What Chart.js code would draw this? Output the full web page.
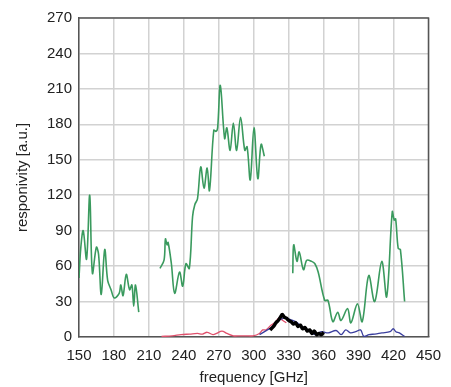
<!DOCTYPE html>
<html>
<head>
<meta charset="utf-8">
<script src="https://cdn.jsdelivr.net/npm/chart.js@4"></script>
<style>
  html, body { margin: 0; padding: 0; background: #fff; }
  #wrap { width: 451px; height: 387px; }
</style>
</head>
<body>
<div id="wrap"><canvas id="respChart" width="451" height="387"></canvas></div>
<script>
// tick values
const xTicks = [150, 180, 210, 240, 270, 300, 330, 360, 390, 420, 450];
const yTicks = [0, 30, 60, 90, 120, 150, 180, 210, 240, 270];

// green curve, three separate pieces
const greenFreqA = [150, 151.5, 153.6, 156.5, 159.2, 161.5, 164.9, 166.8, 169.1, 172.1, 174.6, 177.5, 180.3, 184.5, 185.9, 187.8, 190.6, 193.4, 195.4, 197, 198.5, 201.3];
const greenRespA = [50, 75, 90, 66, 120, 54, 76, 70, 36, 74, 48, 40, 33, 37, 44, 35, 53, 40, 44, 26, 44, 21];

const greenFreqB = [219.5, 223, 224.2, 225.6, 226.5, 229.3, 232.1, 236.3, 239, 241.8, 244.7, 247.5, 249.4, 251.7, 254.5, 257.3, 260, 262, 265.7, 267.6, 269, 271.3, 275, 276.9, 279.7, 282.5, 285.3, 288.7, 292.3, 294.3, 297, 300.2, 303.5, 306.3, 309.1];
const greenRespB = [58, 65, 83, 78, 80, 62, 37, 55, 43, 62, 58, 102, 112, 117, 144, 126, 143, 124, 175, 174, 177, 213, 168, 177, 158, 181, 158, 186, 158, 161, 133, 177, 134, 163, 153];

const greenFreqC = [333.5, 334.3, 337.1, 339, 342.7, 345.5, 349.7, 352.5, 355.3, 360.9, 363.7, 367.9, 372.1, 374.9, 380.5, 383.4, 389, 393.1, 398.7, 403.8, 409.9, 414.1, 418.9, 420.6, 421.8, 424, 425.9, 429.5];
const greenRespC = [54, 78, 64, 72, 57, 65, 64, 62, 55, 31, 31, 13, 21, 14, 24, 12, 28, 13, 52, 30, 64, 34, 106, 99, 100, 75, 74, 30];

// red curve
const redFreq = [220.8, 230, 237.6, 245, 251.7, 256, 260, 265, 268, 272.7, 277, 282.5, 288, 293.7, 299.3, 304.9, 307.7, 310.5, 314.7, 318, 321.7, 325, 328];
const redResp = [0.5, 1, 2, 2.5, 3, 2.5, 4, 2, 3, 5, 3, 1, 1, 1, 1, 3, 6, 6, 10, 12, 16, 14, 12];

// blue curve
const blueFreq = [305, 310, 315, 320, 326, 331, 336, 341, 346, 352.5, 358, 364, 370.7, 375, 379, 383, 387.5, 391.7, 394.5, 399, 404, 410, 417, 419.7, 422, 425, 429.5];
const blueResp = [2, 5, 8, 13, 16, 15, 13, 9, 6, 2, 4.5, 3.5, 5.5, 2, 6, 3.5, 4.5, 6, 0.5, 2, 2.5, 3.5, 4.5, 7, 4.5, 3.5, 0.5];

// black curve
const blackFreq = [314, 317, 319, 321, 323, 324.5, 326, 328, 330, 332, 334, 336, 338, 340, 342, 344, 346, 348, 350, 352, 354, 356, 358, 360];
const blackResp = [6, 9, 12, 14, 17, 19, 17, 16, 14, 13, 11, 12, 9, 10, 7, 8, 5, 6, 3, 5, 2, 3, 2, 4];

function pts(xs, ys) {
    return xs.map((x, i) => ({ x: x, y: ys[i] }));
}

function line(xs, ys, color, width, order) {
    return {
        data: pts(xs, ys),
        borderColor: color,
        borderWidth: width,
        pointRadius: 0,
        tension: 0.35,
        fill: false,
        order: order
    };
}

const frameBorder = {
    id: "frameBorder",
    afterDraw(chart) {
        const { ctx, chartArea: a } = chart;
        ctx.save();
        ctx.strokeStyle = "#555";
        ctx.lineWidth = 1.5;
        ctx.beginPath();
        ctx.moveTo(a.left, a.top);
        ctx.lineTo(a.right, a.top);
        ctx.lineTo(a.right, a.bottom);
        ctx.stroke();
        ctx.restore();
    }
};

const tickFont = { family: "'Liberation Sans', Arial, sans-serif", size: 15 };

new Chart(document.getElementById("respChart"), {
    type: "line",
    data: {
        datasets: [
            line(blackFreq, blackResp, "#000000", 3.5, 0),
            line(blueFreq, blueResp, "#3b3f9e", 1.3, 1),
            line(redFreq, redResp, "#e0506c", 1.3, 2),
            line(greenFreqA, greenRespA, "#3a9a5e", 1.6, 3),
            line(greenFreqB, greenRespB, "#3a9a5e", 1.6, 3),
            line(greenFreqC, greenRespC, "#3a9a5e", 1.6, 3)
        ]
    },
    options: {
        responsive: false,
        animation: false,
        layout: { padding: { left: 0, right: 15, top: 18, bottom: 0 } },
        plugins: {
            legend: { display: false },
            tooltip: { enabled: false }
        },
        scales: {
            x: {
                type: "linear",
                min: 150,
                max: 450,
                afterBuildTicks: s => { s.ticks = xTicks.map(v => ({ value: v })); },
                afterFit: s => { s.height = 50; },
                grid: { color: "#d2d2d2", lineWidth: 1.5, drawTicks: false },
                border: { color: "#555", width: 1.5 },
                ticks: { font: tickFont, color: "#222", padding: 10, maxRotation: 0 },
                title: {
                    display: true,
                    text: "frequency [GHz]",
                    font: tickFont,
                    color: "#222",
                    padding: { top: 0, bottom: 0 }
                }
            },
            y: {
                min: 0,
                max: 270,
                afterBuildTicks: s => { s.ticks = yTicks.map(v => ({ value: v })); },
                afterFit: s => { s.width = 79; },
                grid: { color: "#d2d2d2", lineWidth: 1.5, drawTicks: false },
                border: { color: "#555", width: 1.5 },
                ticks: { font: tickFont, color: "#222", padding: 7 },
                title: {
                    display: true,
                    text: "responivity [a.u.]",
                    font: tickFont,
                    color: "#222",
                    padding: { top: 14, bottom: 0 }
                }
            }
        }
    },
    plugins: [frameBorder]
});
</script>
</body>
</html>
